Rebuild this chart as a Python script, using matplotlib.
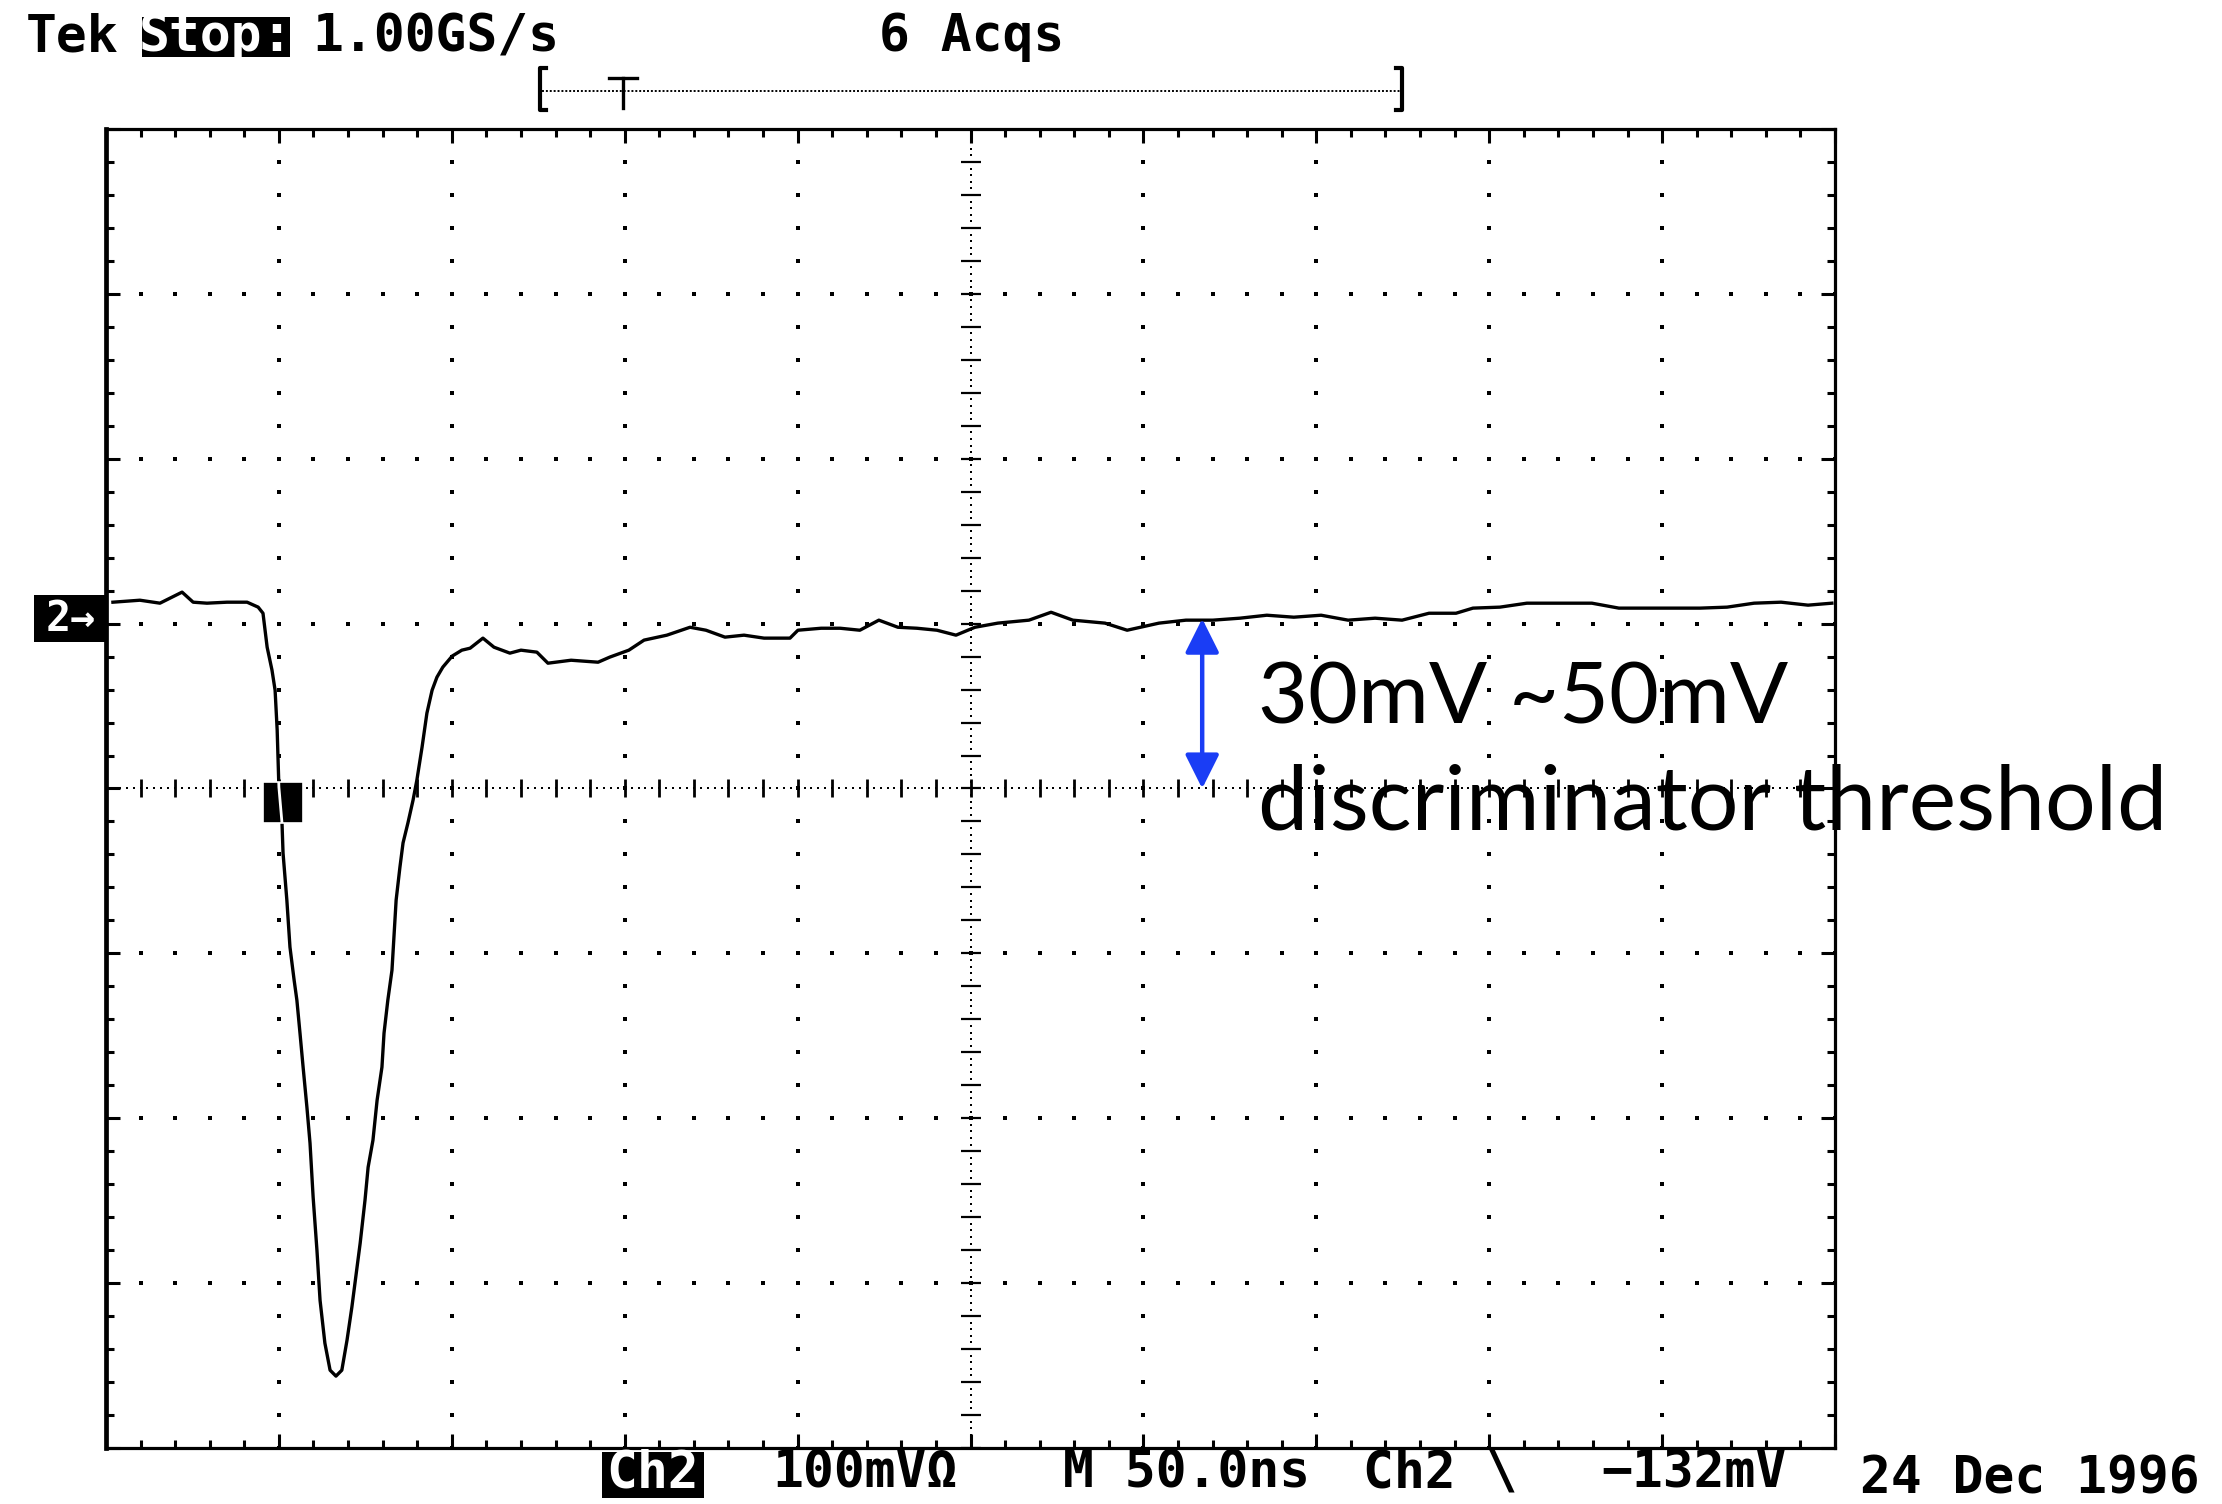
import numpy as np
import matplotlib.pyplot as plt
from matplotlib.patches import Rectangle
from matplotlib.ticker import MultipleLocator, FixedLocator

W, H = 2222, 1504

# Ch2 record: time from left edge of the screen (ns), level relative to Ch2 ground (mV)
t_ns = [2.0, 9.8, 15.6, 22.0, 25.2, 29.2, 35.0, 40.8, 44.0, 45.4,
        46.6, 48.0, 48.9, 49.5, 50.0, 50.9, 51.2, 52.3, 53.2, 54.4,
        55.2, 56.1, 57.0, 58.1, 59.0, 59.9, 61.0, 61.9, 63.3, 64.8,
        66.5, 68.2, 69.7, 71.1, 72.6, 73.5, 74.9, 75.8, 77.2, 78.4,
        79.8, 80.4, 81.5, 82.7, 83.9, 85.0, 85.9, 87.3, 88.8, 89.9,
        91.4, 92.8, 94.3, 95.7, 97.4, 100.1, 102.9, 105.3, 109.0, 112.2,
        116.8, 120.0, 124.6, 127.8, 134.5, 142.3, 145.7, 151.2, 155.6, 162.2,
        168.9, 173.5, 179.0, 184.5, 190.3, 197.8, 200.1, 206.8, 212.3, 218.0,
        223.5, 229.0, 234.5, 240.3, 245.8, 251.3, 257.9, 266.9, 273.3, 279.6,
        288.9, 295.3, 304.5, 312.3, 320.1, 327.9, 335.7, 343.5, 351.4, 359.2,
        367.0, 374.8, 382.6, 390.4, 395.3, 403.1, 410.9, 421.9, 429.7, 437.5,
        445.3, 453.1, 461.0, 468.8, 476.6, 484.4, 492.2, 499.1]
v_mv = [10.0, 11.2, 9.4, 16.1, 10.0, 9.4, 10.0, 10.0, 7.0, 3.3,
        -17.3, -31.2, -43.4, -67.6, -102.2, -124.0, -142.2, -170.7, -199.2, -219.2,
        -231.4, -251.4, -272.0, -296.3, -318.1, -350.9, -383.0, -413.4, -439.4, -455.8,
        -459.4, -455.8, -437.6, -417.6, -393.3, -378.8, -352.7, -332.7, -316.3, -292.0,
        -272.0, -251.4, -231.4, -213.2, -170.7, -150.7, -136.0, -124.0, -110.0, -97.9,
        -77.9, -57.3, -43.4, -35.5, -29.4, -22.7, -19.1, -17.9, -11.8, -17.3,
        -20.9, -19.1, -20.3, -27.0, -25.2, -26.4, -23.3, -19.1, -13.0, -10.0,
        -5.2, -7.0, -11.2, -10.0, -11.8, -11.8, -7.0, -5.8, -5.8, -7.0,
        -0.9, -5.2, -5.8, -7.0, -10.0, -5.2, -2.7, -0.9, 3.9, -0.9,
        -2.7, -7.0, -2.7, -0.9, -0.9, 0.3, 2.1, 0.9, 2.1, -0.9,
        0.3, -0.9, 3.3, 3.3, 6.4, 7.0, 9.4, 9.4, 9.4, 6.4,
        6.4, 6.4, 6.4, 7.0, 9.4, 10.0, 8.2, 9.4]

ns_per_div = 50.0
mv_per_div = 100.0
ground_div = 1.03              # Ch2 ground marker, divisions above screen centre

trig_box_ns = (45.4, 57.0)
trig_box_mv = (-124.0, -99.0)

thr_arrow_ns = 317.0
thr_arrow_mv = (0.0, -103.0)
thr_label = "30mV ~50mV"
thr_caption = "discriminator threshold"

status_top = ["Tek", "Stop:", "1.00GS/s", "6 Acqs"]
status_bottom = ["Ch2", "100mV\u03a9", "M 50.0ns", "Ch2 \\", "\u2212132mV", "24 Dec 1996"]

BLUE = "#1a3df5"
SCOPE_FONT = "DejaVu Sans Mono"


def fx(x):
    return x / W


def fy(y):
    return 1 - y / H


fig = plt.figure(figsize=(W / 100, H / 100), dpi=100)
fig.patch.set_facecolor("white")
ax = fig.add_axes([fx(106), fy(1448), 1729 / W, 1319 / H])

centre = -ground_div * mv_per_div
ax.set_xlim(0, 10 * ns_per_div)
ax.set_ylim(centre - 4 * mv_per_div, centre + 4 * mv_per_div)

# border ticks every fifth of a division
ax.xaxis.set_major_locator(MultipleLocator(ns_per_div))
ax.xaxis.set_minor_locator(MultipleLocator(ns_per_div / 5))
ax.yaxis.set_major_locator(FixedLocator(centre + mv_per_div * np.arange(-4, 5)))
ax.yaxis.set_minor_locator(FixedLocator(centre + mv_per_div / 5 * np.arange(-20, 21)))
ax.tick_params(which="both", direction="in", top=True, right=True,
               labelbottom=False, labelleft=False, width=2.2, color="black")
ax.tick_params(which="major", length=10)
ax.tick_params(which="minor", length=6)
for side, sp in ax.spines.items():
    sp.set_linewidth(3.4 if side == "left" else 2.3)

# graticule: dotted grid lines
xs_minor = np.arange(0, 51) * ns_per_div / 5
ys_minor = centre + np.arange(-20, 21) * mv_per_div / 5
dot = dict(ls="none", marker="s", ms=2.6, mew=0, color="black", zorder=1)
for k in range(1, 10):
    if k != 5:
        ax.plot(np.full(ys_minor.size, k * ns_per_div), ys_minor, **dot)
for k in range(-3, 4):
    if k != 0:
        ax.plot(xs_minor, np.full(xs_minor.size, centre + k * mv_per_div), **dot)

# centre cross: dense dots with small cross ticks
xs_fine = np.arange(0, 251) * ns_per_div / 25
ys_fine = centre + np.arange(-100, 101) * mv_per_div / 25
ax.plot(xs_fine, np.full(xs_fine.size, centre), **dict(dot, ms=2.0))
ax.plot(np.full(ys_fine.size, 5 * ns_per_div), ys_fine, **dict(dot, ms=2.0))
ax.plot(xs_minor, np.full(xs_minor.size, centre), ls="none", marker="|",
        ms=13, mew=2.0, color="black", zorder=1)
ax.plot(np.full(ys_minor.size, 5 * ns_per_div), ys_minor, ls="none", marker="_",
        ms=14, mew=1.6, color="black", zorder=1)

# waveform
ax.plot(t_ns, v_mv, color="black", lw=2.4, zorder=3)

# trigger point marker, trace shows through in white
box = Rectangle((trig_box_ns[0], trig_box_mv[0]),
                trig_box_ns[1] - trig_box_ns[0], trig_box_mv[1] - trig_box_mv[0],
                facecolor="black", edgecolor="white", lw=1.2, zorder=4)
ax.add_patch(box)
inner, = ax.plot(t_ns, v_mv, color="white", lw=2.0, zorder=5)
inner.set_clip_path(box)

# threshold annotation
ax.annotate("", xy=(thr_arrow_ns, thr_arrow_mv[0]), xytext=(thr_arrow_ns, thr_arrow_mv[1]),
            arrowprops=dict(arrowstyle="<|-|>", color=BLUE, lw=3.2,
                            mutation_scale=52, shrinkA=0, shrinkB=0),
            zorder=6)
fig.text(fx(1258), fy(723), thr_label, family="Lato", fontsize=62,
         va="baseline", ha="left", color="black", zorder=10)
fig.text(fx(1258), fy(829), thr_caption, family="Lato", fontsize=64.5,
         va="baseline", ha="left", color="black", zorder=10)

# ch2 ground marker
fig.patches.append(Rectangle((fx(34), fy(642)), (107 - 34) / W, (642 - 595) / H,
                             transform=fig.transFigure, facecolor="black",
                             edgecolor="none", zorder=5))
fig.text(fx(71), fy(619), "2\u2192", color="white", fontsize=30, fontweight="bold",
         family=SCOPE_FONT, ha="center", va="center", zorder=6)

# status line along the top
scope_txt = dict(family=SCOPE_FONT, fontsize=37, fontweight="bold",
                 va="center", ha="left", color="black")
fig.text(fx(26), fy(37), status_top[0], **scope_txt)
fig.patches.append(Rectangle((fx(142), fy(57)), (290 - 142) / W, 40 / H,
                             transform=fig.transFigure, facecolor="black",
                             edgecolor="none"))
fig.text(fx(216), fy(37), status_top[1], **dict(scope_txt, ha="center", color="white"))
fig.text(fx(312), fy(37), status_top[2], **scope_txt)
fig.text(fx(879), fy(37), status_top[3], **scope_txt)

# record view bracket with trigger position
rec = dict(color="black", transform=fig.transFigure)
fig.add_artist(plt.Line2D([fx(546), fx(540), fx(540), fx(546)],
                          [fy(68), fy(68), fy(110), fy(110)], lw=3, **rec))
fig.add_artist(plt.Line2D([fx(1396), fx(1402), fx(1402), fx(1396)],
                          [fy(68), fy(68), fy(110), fy(110)], lw=3, **rec))
fig.add_artist(plt.Line2D([fx(542), fx(1400)], [fy(91), fy(91)], lw=1.4, ls=(0, (1, 1)), **rec))
fig.add_artist(plt.Line2D([fx(609), fx(637)], [fy(78), fy(78)], lw=2.4, **rec))
fig.add_artist(plt.Line2D([fx(623), fx(623)], [fy(78), fy(108)], lw=2.4, **rec))

# settings line along the bottom
fig.patches.append(Rectangle((fx(602), fy(1498)), (704 - 602) / W, (1498 - 1452) / H,
                             transform=fig.transFigure, facecolor="black",
                             edgecolor="none"))
fig.text(fx(653), fy(1474), status_bottom[0], **dict(scope_txt, ha="center", color="white"))
fig.text(fx(772), fy(1474), status_bottom[1], **scope_txt)
fig.text(fx(1063), fy(1474), status_bottom[2], **scope_txt)
fig.text(fx(1363), fy(1474), status_bottom[3], **scope_txt)
fig.text(fx(1601), fy(1474), status_bottom[4], **scope_txt)
fig.text(fx(1860), fy(1480), status_bottom[5], **scope_txt)

fig.savefig("out.png", dpi=100, facecolor="white")
